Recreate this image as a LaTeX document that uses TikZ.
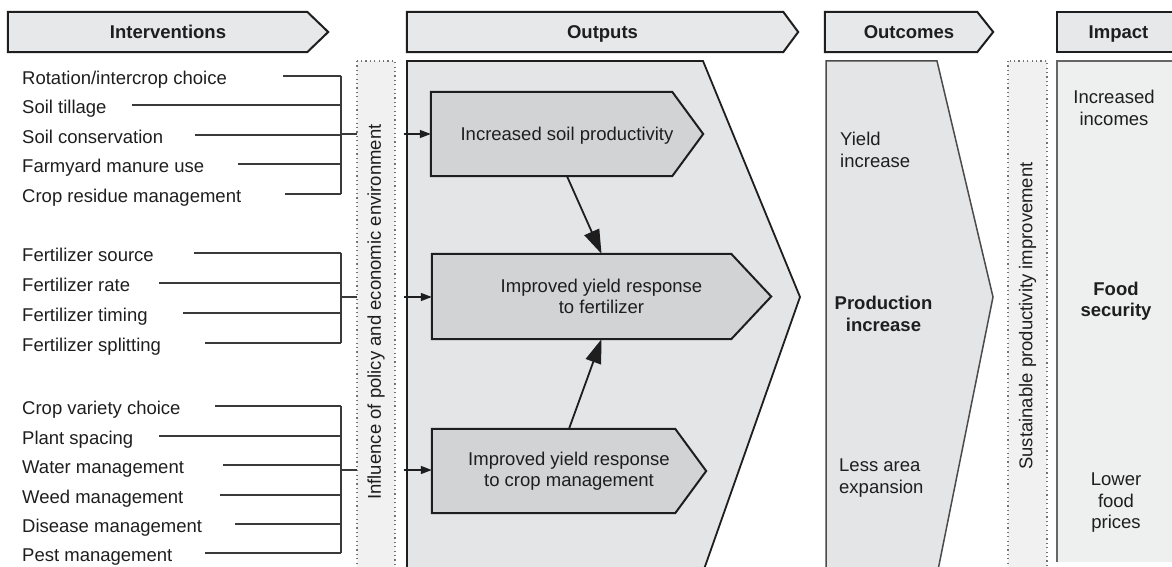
\documentclass[tikz,border=0pt]{standalone}
\usepackage{fontspec}
\setmainfont{Liberation Sans}
\usetikzlibrary{arrows.meta,backgrounds}

\definecolor{hdrfill}{HTML}{E7E8EA}
\definecolor{panelfill}{HTML}{E3E5E7}
\definecolor{boxfill}{HTML}{D2D3D5}
\definecolor{impactfill}{HTML}{EEEFEF}
\definecolor{bandfill}{HTML}{F1F1F1}
\definecolor{ink}{HTML}{1E1E1E}
\definecolor{wire}{HTML}{3A3A3A}

\tikzset{
  txt/.style={font=\fontsize{18.5}{21.5}\selectfont, text=ink, inner sep=0pt},
  bold/.style={txt, font=\fontsize{18.5}{21.5}\selectfont\bfseries},
  item/.style={txt, anchor=base west},
  oneline/.style={text height=13.3pt, text depth=0pt},
  hdr/.style={bold, oneline, minimum height=40pt},
  hdrshape/.style={fill=hdrfill, draw=ink, line width=2pt, line join=miter},
  boxshape/.style={fill=boxfill, draw=ink, line width=2pt, line join=miter},
  boxtext/.style={txt, align=center, minimum height=84pt},
  panel/.style={fill=panelfill, draw=ink, line width=1.8pt, line join=miter},
  band/.style={fill=bandfill, draw=black!55, line width=1.2pt, dash pattern=on 1.2pt off 3.2pt},
  conn/.style={draw=wire, line width=1.4pt},
  feed/.style={draw=ink, line width=1.4pt, -{Triangle[length=11pt,width=8pt]}},
  link/.style={draw=ink, line width=1.8pt, -{Triangle[length=24pt,width=16pt]}},
}

\begin{document}
\begin{tikzpicture}[x=1pt,y=-1pt]
\useasboundingbox (0,0) rectangle (1172,567);
\clip (0,0) rectangle (1172,567);

% ---------- header texts ----------
\node[hdr, minimum width=320pt] (hInt) at (168,32) {Interventions};
\node[hdr, minimum width=391pt] (hOut) at (602.5,32) {Outputs};
\node[hdr, minimum width=168pt] (hOutc) at (909,32) {Outcomes};
\node[hdr, minimum width=123pt] (hImp) at (1118.5,32) {Impact};

% ---------- output boxes ----------
\node[boxtext, oneline, minimum width=272pt] (box1) at (567,134) {Increased soil productivity};
\node[boxtext, minimum width=339pt, minimum height=85pt] (box2) at (601.5,296.5) {Improved yield response\\to fertilizer};
\node[boxtext, minimum width=274pt] (box3) at (569,471) {Improved yield response\\to crop management};

% ---------- outcome and impact texts ----------
\node[txt, anchor=west, align=left] (yield) at (840,150) {Yield\\increase};
\node[bold, align=center] (prod) at (883.5,314) {Production\\increase};
\node[txt, anchor=west, align=left] (area) at (839,478) {Less area\\expansion};
\node[txt, align=center] (income) at (1114,108) {Increased\\incomes};
\node[bold, align=center] (food) at (1116,301) {Food\\security};
\node[txt, align=center] (price) at (1116,503) {Lower\\food\\prices};

% ---------- vertical band labels ----------
\node[txt, rotate=90] (policy) at (376,312) {Influence of policy and economic environment};
\node[txt, rotate=90] (sustain) at (1027.5,316) {Sustainable productivity improvement};

% ---------- shapes behind the texts ----------
\begin{scope}[on background layer]
  % column panels
  \path[panel] (407,575) -- (407,61) -- (703,61) -- (800,297) -- (702,575);
  \path[panel, draw=ink!80, line width=1.5pt] (826,575) -- (826,61) -- (937,61) -- (993,297) -- (937,575);
  \fill[impactfill] (1057,61) rectangle (1180,562);
  \draw[draw=black!60, line width=1.5pt] (1057,562) -- (1057,61) -- (1180,61);
  % dotted bands
  \path[band] (357,61) rectangle (395,580);
  \path[band] (1008,61) rectangle (1047,580);
  % headers
  \path[hdrshape] (hInt.north west) -- ([xshift=-21pt]hInt.north east) -- (hInt.east)
        -- ([xshift=-21pt]hInt.south east) -- (hInt.south west) -- cycle;
  \path[hdrshape] (hOut.north west) -- ([xshift=-15pt]hOut.north east) -- (hOut.east)
        -- ([xshift=-15pt]hOut.south east) -- (hOut.south west) -- cycle;
  \path[hdrshape] (hOutc.north west) -- ([xshift=-16pt]hOutc.north east) -- (hOutc.east)
        -- ([xshift=-16pt]hOutc.south east) -- (hOutc.south west) -- cycle;
  \path[hdrshape] (hImp.north east) -- (hImp.north west) -- (hImp.south west) -- (hImp.south east);
  % pointed output boxes
  \path[boxshape] (box1.north west) -- ([xshift=-31pt]box1.north east) -- (box1.east)
        -- ([xshift=-31pt]box1.south east) -- (box1.south west) -- cycle;
  \path[boxshape] (box2.north west) -- ([xshift=-40pt]box2.north east) -- (box2.east)
        -- ([xshift=-40pt]box2.south east) -- (box2.south west) -- cycle;
  \path[boxshape] (box3.north west) -- ([xshift=-31pt]box3.north east) -- (box3.east)
        -- ([xshift=-31pt]box3.south east) -- (box3.south west) -- cycle;
\end{scope}

% ---------- intervention lists with their brackets ----------
\coordinate (bar) at (341,0);
\foreach \n/\t/\y/\s in {
    a1/Rotation\slash intercrop choice/76/283,
    a2/Soil tillage/105/132,
    a3/Soil conservation/135/195,
    a4/Farmyard manure use/164/238,
    a5/Crop residue management/194/285,
    b1/Fertilizer source/253/194,
    b2/Fertilizer rate/283/159,
    b3/Fertilizer timing/313/183,
    b4/Fertilizer splitting/343/205,
    c1/Crop variety choice/406/215,
    c2/Plant spacing/436/159,
    c3/Water management/465/223,
    c4/Weed management/495/220,
    c5/Disease management/524/235,
    c6/Pest management/553/205} {
  \node[item] (\n) at (22,\y+8.5) {\t};
  \coordinate (\n-l) at (\s,\y);
  \draw[conn] (\n-l) -- (\n-l -| bar);
}
% vertical bracket bars
\draw[conn] (a1-l -| bar) -- (a5-l -| bar);
\draw[conn] (b1-l -| bar) -- (b4-l -| bar);
\draw[conn] (c1-l -| bar) -- (c6-l -| bar);

% bracket stubs into the band and arrows out of it
\coordinate (g1) at (341,134);
\coordinate (g2) at (341,297);
\coordinate (g3) at (341,470);
\foreach \g/\b in {g1/box1, g2/box2, g3/box3} {
  \draw[conn] (\g) -- ++(16,0);
  \draw[feed] (\g -| policy.south) ++(19,0) -- (\b.west |- \g);
}

% links between the output boxes
\draw[link] (box1.south) -- (box2.north);
\draw[link] (box3.north) -- (box2.south);
\end{tikzpicture}
\end{document}
